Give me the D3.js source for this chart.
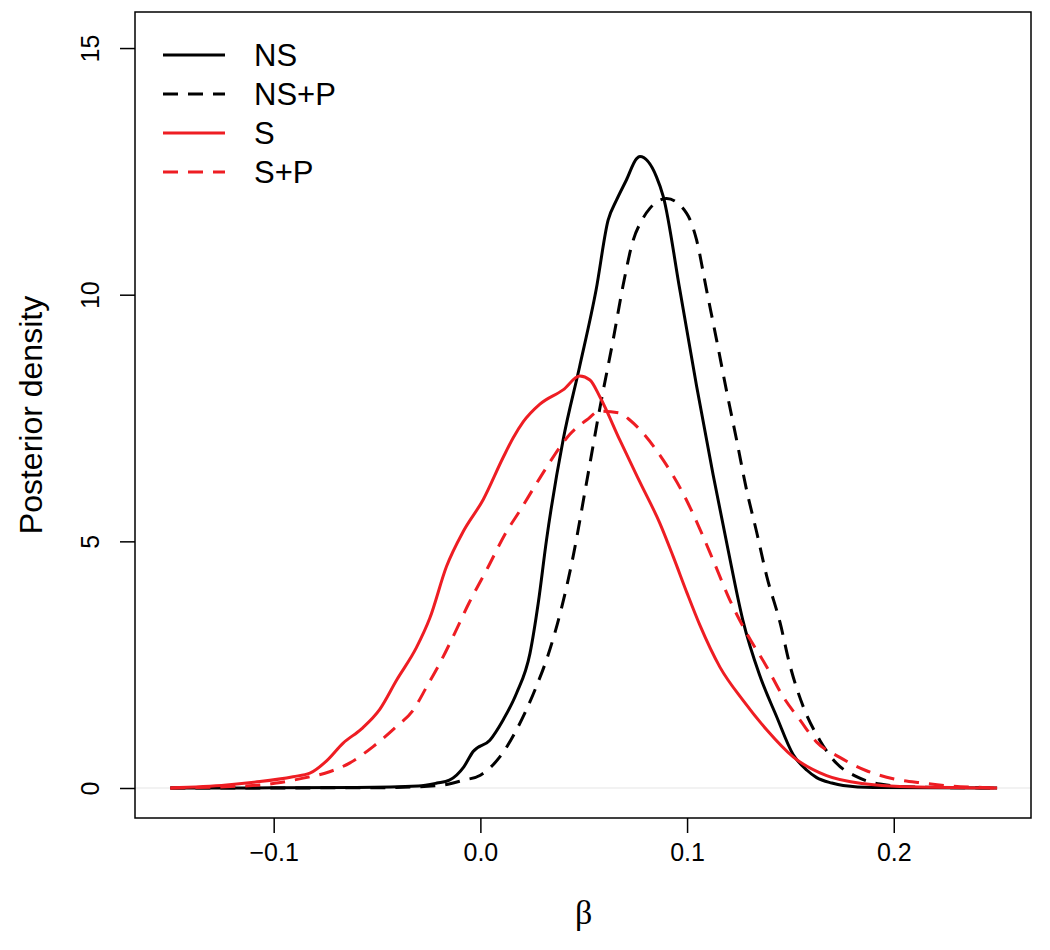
<!DOCTYPE html>
<html>
<head>
<meta charset="utf-8">
<script src="https://cdn.jsdelivr.net/npm/d3@7"></script>
<style>
  html, body { margin: 0; padding: 0; background: #fff; }
  svg { display: block; }
</style>
</head>
<body>
<svg id="chart" width="1050" height="950"></svg>
<script>
// ---- data ----
const nsX  = [-0.15,-0.10,-0.06,-0.03,-0.021,-0.015,-0.008,-0.0035,0.0046,0.011,0.0175,0.024,0.028,0.032,0.040,0.048,0.056,0.0618,0.0659,0.0707,0.0756,0.0772,0.0852,0.0885,0.0965,0.1046,0.1126,0.1195,0.127,0.135,0.1433,0.1513,0.158,0.1627,0.17,0.1755,0.19,0.25];
const nsY  = [0,0.003,0.01,0.04,0.1,0.16,0.43,0.74,0.97,1.38,1.92,2.73,3.75,5.03,7.05,8.54,10.1,11.51,11.92,12.33,12.76,12.8,12.39,11.99,10.1,8.15,6.35,4.9,3.4,2.3,1.45,0.68,0.36,0.21,0.1,0.05,0.01,0];

const nspX = [-0.15,-0.05,-0.02,-0.008,0,0.0094,0.0175,0.027,0.0328,0.0449,0.0514,0.0578,0.0643,0.0691,0.0739,0.078,0.082,0.0901,0.0998,0.1046,0.1094,0.1143,0.119,0.124,0.1288,0.1336,0.1385,0.145,0.1497,0.1562,0.1642,0.1723,0.182,0.1933,0.21,0.25];
const nspY = [0,0.005,0.05,0.16,0.26,0.63,1.18,2.05,2.7,4.7,6.2,7.7,9.1,10.2,11.1,11.5,11.75,11.95,11.65,11.11,10.1,9.08,8.07,7.05,6.04,5.2,4.3,3.35,2.5,1.65,0.97,0.5,0.23,0.08,0.02,0];

const sX   = [-0.15,-0.1228,-0.1067,-0.0906,-0.0825,-0.0744,-0.0664,-0.0575,-0.0486,-0.0405,-0.0309,-0.0244,-0.0164,-0.0083,0.0014,0.011,0.0159,0.0207,0.0288,0.040,0.0481,0.053,0.0578,0.0675,0.0772,0.0868,0.0933,0.1,0.1062,0.1159,0.127,0.1385,0.1513,0.1675,0.1868,0.203,0.25];
const sY   = [0,0.06,0.13,0.23,0.3,0.55,0.91,1.2,1.6,2.19,2.85,3.45,4.49,5.2,5.85,6.7,7.1,7.42,7.78,8.07,8.35,8.27,7.93,7.05,6.2,5.37,4.69,3.95,3.3,2.45,1.78,1.18,0.63,0.25,0.08,0.03,0];

const spX  = [-0.15,-0.1067,-0.0986,-0.0857,-0.0752,-0.0631,-0.0519,-0.0405,-0.0325,-0.026,-0.0196,-0.0132,-0.0055,0.003,0.0127,0.0191,0.0255,0.032,0.040,0.0433,0.0514,0.0578,0.0675,0.0723,0.0788,0.0884,0.0981,0.1062,0.1126,0.1207,0.1288,0.1385,0.1465,0.1546,0.1627,0.1739,0.1868,0.2005,0.2142,0.227,0.243,0.25];
const spY  = [0,0.06,0.1,0.2,0.3,0.51,0.84,1.25,1.58,2.05,2.53,3.07,3.75,4.42,5.2,5.62,6.06,6.5,7.0,7.17,7.46,7.64,7.6,7.46,7.19,6.65,5.97,5.25,4.62,3.81,3.14,2.46,1.85,1.38,0.93,0.62,0.35,0.18,0.1,0.04,0.01,0];

const seriesNames  = ["NS", "NS+P", "S", "S+P"];
const xTickValues  = [-0.1, 0.0, 0.1, 0.2];
const xTickLabels  = ["\u22120.1", "0.0", "0.1", "0.2"];
const yTickValues  = [0, 5, 10, 15];
const yTickLabels  = ["0", "5", "10", "15"];
const xAxisTitle   = "\u03B2";
const yAxisTitle   = "Posterior density";

// ---- layout ----
const L = 135, R = 1031, T = 12, B = 818;
const RED = "#ee1d23";
const DASH = "15,10";
const styles = [
  {color: "#000", dash: null},
  {color: "#000", dash: DASH},
  {color: RED, dash: null},
  {color: RED, dash: DASH}
];
const series = [
  {name: seriesNames[0], xs: nsX,  ys: nsY,  ...styles[0]},
  {name: seriesNames[1], xs: nspX, ys: nspY, ...styles[1]},
  {name: seriesNames[2], xs: sX,   ys: sY,   ...styles[2]},
  {name: seriesNames[3], xs: spX,  ys: spY,  ...styles[3]}
];

const x = d3.scaleLinear().domain([-0.1671, 0.2664]).range([L, R]);
const y = d3.scaleLinear().domain([-30/49.33, (788-12)/49.33]).range([B, T]);

const svg = d3.select("#chart");
const font = "'Liberation Sans', Arial, Helvetica, sans-serif";

// zero reference line
svg.append("line")
  .attr("x1", L).attr("x2", R)
  .attr("y1", y(0)).attr("y2", y(0))
  .attr("stroke", "#e6e6e6").attr("stroke-width", 1.2);

// curves
const line = d3.line()
  .x(d => x(d[0])).y(d => y(d[1]))
  .curve(d3.curveMonotoneX);

svg.append("g").selectAll("path")
  .data(series)
  .join("path")
  .attr("d", s => line(s.xs.map((v, i) => [v, s.ys[i]])))
  .attr("fill", "none")
  .attr("stroke", s => s.color)
  .attr("stroke-width", 3)
  .attr("stroke-dasharray", s => s.dash)
  .attr("stroke-linejoin", "round");

// box
svg.append("rect")
  .attr("x", L).attr("y", T)
  .attr("width", R - L).attr("height", B - T)
  .attr("fill", "none").attr("stroke", "#000").attr("stroke-width", 1.5);

// x axis
const xAxis = d3.axisBottom(x)
  .tickValues(xTickValues)
  .tickFormat((d, i) => xTickLabels[i])
  .tickSize(15).tickPadding(10);
const gx = svg.append("g").attr("transform", `translate(0,${B})`).call(xAxis);
gx.select(".domain").remove();
gx.selectAll(".tick line").attr("stroke", "#000").attr("stroke-width", 1.5);
gx.selectAll(".tick text")
  .attr("font-family", font).attr("font-size", 25).attr("fill", "#000");

// y axis
const yAxis = d3.axisLeft(y)
  .tickValues(yTickValues)
  .tickFormat((d, i) => yTickLabels[i])
  .tickSize(15).tickPadding(0);
const gy = svg.append("g").attr("transform", `translate(${L},0)`).call(yAxis);
gy.select(".domain").remove();
gy.selectAll(".tick line").attr("stroke", "#000").attr("stroke-width", 1.5);
gy.selectAll(".tick text")
  .attr("font-family", font).attr("font-size", 25).attr("fill", "#000")
  .attr("x", null).attr("dy", null)
  .attr("text-anchor", "middle")
  .attr("transform", "translate(-36,0) rotate(-90)");

// axis titles
svg.append("text")
  .attr("x", x(0.05)).attr("y", 924)
  .attr("text-anchor", "middle")
  .attr("font-family", "'Liberation Serif', 'DejaVu Serif', serif")
  .attr("font-size", 34).attr("fill", "#000")
  .text(xAxisTitle);

svg.append("text")
  .attr("transform", `translate(42,415) rotate(-90)`)
  .attr("text-anchor", "middle")
  .attr("font-family", font).attr("font-size", 32).attr("fill", "#000")
  .text(yAxisTitle);

// legend
const legY = [55, 94, 133, 172];
const leg = svg.append("g");
series.forEach((s, i) => {
  leg.append("line")
    .attr("x1", 163).attr("x2", 225)
    .attr("y1", legY[i]).attr("y2", legY[i])
    .attr("stroke", s.color).attr("stroke-width", 3)
    .attr("stroke-dasharray", s.dash);
  leg.append("text")
    .attr("x", 254).attr("y", legY[i] + 11)
    .attr("font-family", font).attr("font-size", 31).attr("fill", "#000")
    .text(s.name);
});
</script>
</body>
</html>
